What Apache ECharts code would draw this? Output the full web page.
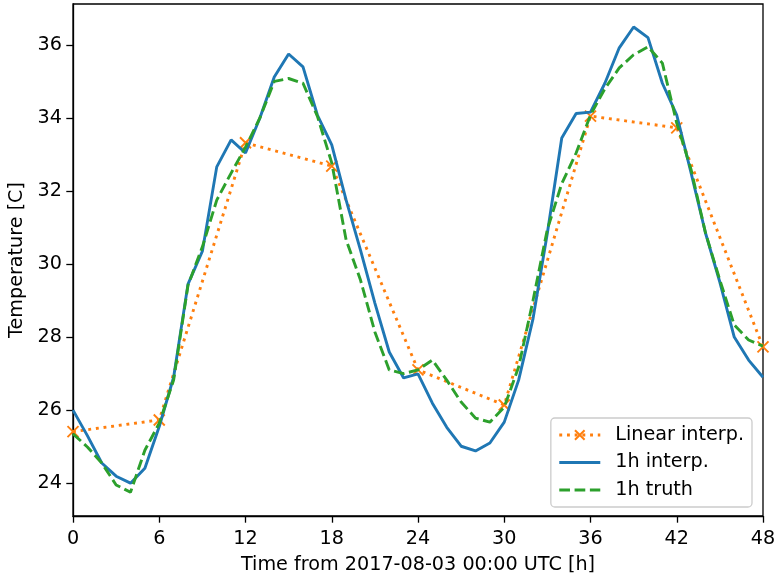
<!DOCTYPE html>
<html>
<head>
<meta charset="utf-8">
<script src="https://cdn.jsdelivr.net/npm/echarts@6/dist/echarts.min.js"></script>
<style>html,body{margin:0;padding:0;background:#fff;}#c{width:774px;height:577px;}</style>
</head>
<body>
<div id="c"></div>
<script>
var linearHours = [0, 6, 12, 18, 24, 30, 36, 42, 48];
var linearValues = [25.41, 25.73, 33.32, 32.68, 27.10, 26.14, 34.05, 33.73, 27.73];
var hours = [];
for (var i = 0; i <= 48; i++) hours.push(i);
var interpValues = [26.0, 25.3, 24.55, 24.19, 24.0, 24.41, 25.55, 26.9, 29.45, 30.35,
  32.66, 33.4, 33.04, 34.0, 35.12, 35.75, 35.4, 34.08, 33.26, 31.75,
  30.38, 28.93, 27.59, 26.88, 26.99, 26.19, 25.53, 25.01, 24.88, 25.1,
  25.67, 26.82, 28.5, 30.85, 33.45, 34.12, 34.16, 34.95, 35.92, 36.49,
  36.2, 34.95, 34.08, 32.49, 30.85, 29.5, 28.0, 27.37, 26.9];
var truthValues = [25.35, 24.99, 24.55, 23.95, 23.75, 24.9, 25.64, 26.82, 29.42, 30.47,
  31.75, 32.49, 33.2, 34.0, 35.0, 35.08, 34.95, 34.05, 32.77, 30.66,
  29.56, 28.14, 27.1, 27.0, 27.1, 27.37, 26.82, 26.22, 25.78, 25.67,
  26.08, 27.18, 29.0, 30.95, 32.2, 33.04, 34.08, 34.8, 35.37, 35.73,
  35.95, 35.5, 33.86, 32.58, 30.85, 29.56, 28.33, 27.92, 27.75];
var yTicks = [24, 26, 28, 30, 32, 34, 36];
var xTicks = [0, 6, 12, 18, 24, 30, 36, 42, 48];
var seriesNames = ['Linear interp.', '1h interp.', '1h truth'];
var xName = 'Time from 2017-08-03 00:00 UTC [h]';
var yName = 'Temperature [C]';

function pairs(xs, ys) { return xs.map(function (x, i) { return [x, ys[i]]; }); }

var font = 'DejaVu Sans';
var fs = 19.2;
var lw = 2.9;
var chart = echarts.init(document.getElementById('c'), null, {renderer: 'canvas'});
chart.setOption({
  animation: false,
  backgroundColor: '#fff',
  grid: {left: 73, right: 11, top: 4, bottom: 61, show: true, borderColor: '#000', borderWidth: 1.3,
         containLabel: false, outerBoundsMode: 'none'},
  xAxis: {
    type: 'value', min: 0, max: 48, interval: 6,
    name: xName, nameLocation: 'middle', nameGap: 40,
    nameTextStyle: {fontFamily: font, fontSize: fs, color: '#000'},
    axisLine: {show: true, lineStyle: {color: '#000', width: 1.3}},
    axisTick: {show: true, length: 6.7, inside: false, lineStyle: {color: '#000', width: 1.3}},
    axisLabel: {margin: 14, fontFamily: font, fontSize: fs, color: '#000'},
    splitLine: {show: false}
  },
  yAxis: {
    type: 'value', min: 23.1, max: 37.12,
    name: yName, nameLocation: 'middle', nameGap: 43, nameRotate: 90,
    nameTextStyle: {fontFamily: font, fontSize: fs, color: '#000'},
    axisLine: {show: true, lineStyle: {color: '#000', width: 1.3}},
    axisTick: {show: true, length: 6.7, customValues: yTicks, lineStyle: {color: '#000', width: 1.3}},
    axisLabel: {margin: 11, fontFamily: font, fontSize: fs, color: '#000', customValues: yTicks},
    splitLine: {show: false}
  },
  legend: {
    orient: 'vertical', right: 22, bottom: 70,
    data: [
      {name: seriesNames[0]},
      {name: seriesNames[1], itemStyle: {opacity: 0}},
      {name: seriesNames[2], itemStyle: {opacity: 0}}
    ],
    backgroundColor: 'rgba(255,255,255,0.8)', borderColor: '#cccccc', borderWidth: 1.3, borderRadius: 4,
    padding: [6, 8, 6, 7], itemGap: 5.5, itemWidth: 41, itemHeight: 12,
    lineStyle: {width: 2.9},
    textStyle: {fontFamily: font, fontSize: fs, color: '#000', lineHeight: 22, padding: [0, 0, 0, 10]}
  },
  series: [
    {
      name: seriesNames[0], type: 'line', data: pairs(linearHours, linearValues),
      symbol: 'path://M0,0L10,10M10,0L0,10', symbolSize: 11, showSymbol: true,
      itemStyle: {color: '#ff7f0e', borderColor: '#ff7f0e', borderWidth: 1.9},
      lineStyle: {color: '#ff7f0e', width: lw, type: [2.9, 4.8], cap: 'butt'},
      z: 2
    },
    {
      name: seriesNames[1], type: 'line', data: pairs(hours, interpValues),
      symbol: 'none', itemStyle: {color: '#1f77b4'},
      lineStyle: {color: '#1f77b4', width: lw, type: 'solid'},
      z: 3
    },
    {
      name: seriesNames[2], type: 'line', data: pairs(hours, truthValues),
      symbol: 'none', itemStyle: {color: '#2ca02c'},
      lineStyle: {color: '#2ca02c', width: lw, type: [10.7, 4.6], cap: 'butt'},
      z: 4
    }
  ]
});
</script>
</body>
</html>
